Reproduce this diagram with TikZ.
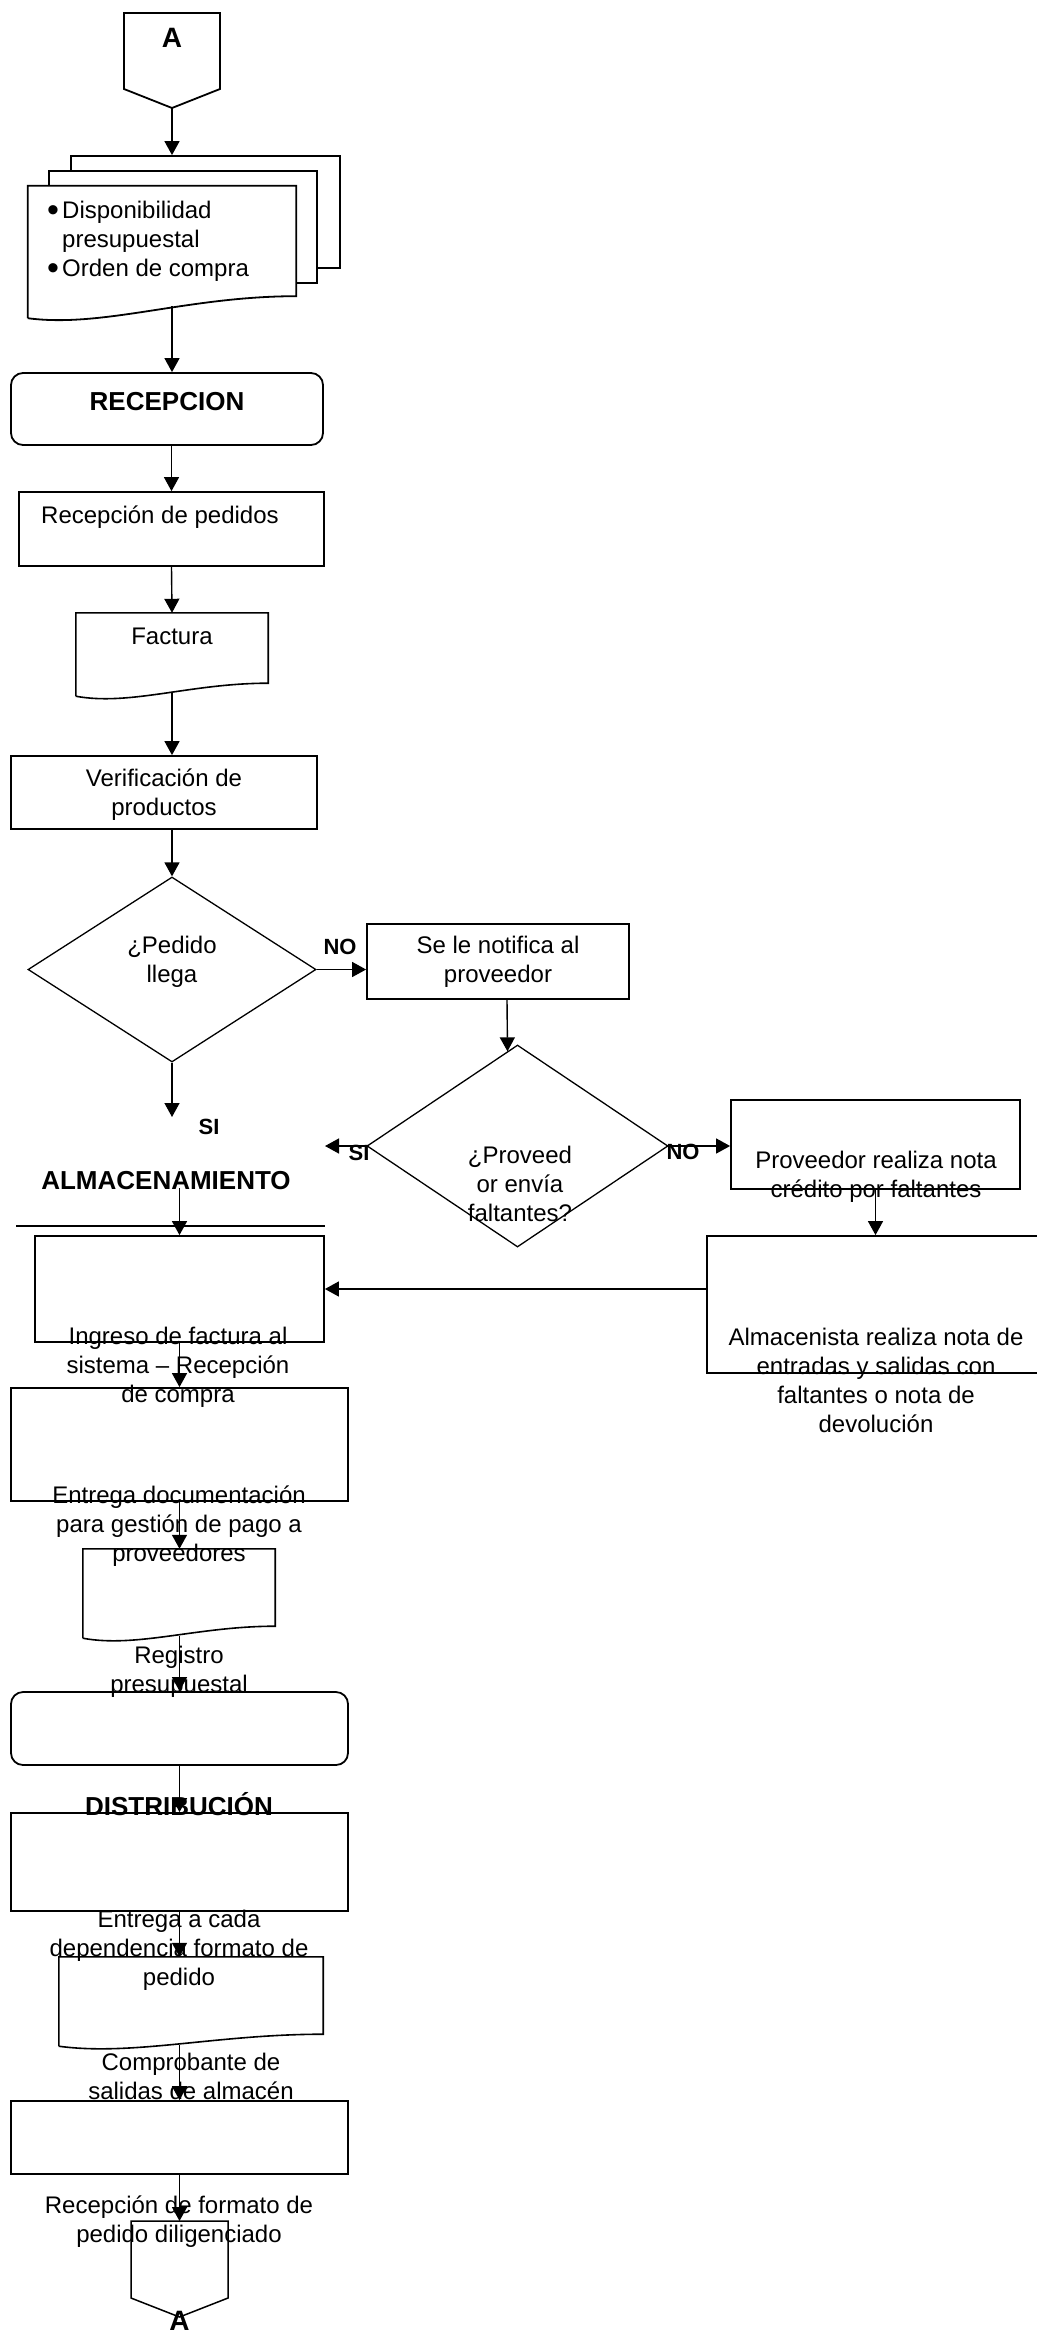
\documentclass[tikz,border=0pt]{standalone}
\usepackage{fontspec}
\setmainfont{Liberation Sans}
\usetikzlibrary{arrows.meta,shapes.geometric}

\begin{document}
\begin{tikzpicture}[x=1pt, y=-1pt,
  box/.style={draw, rectangle, line width=1.8pt, inner sep=0pt},
  rbox/.style={box, rounded corners=12pt},
  docn/.style={rectangle, inner sep=0pt},
  docl/.style={line width=1.6pt},
  dec/.style={draw, diamond, line width=1.3pt, inner sep=0pt},
  arr/.style={-{Triangle[length=14pt, width=15pt]}, line width=1.4pt},
  txt/.style={font=\fontsize{24}{29}\selectfont, align=center, inner sep=0pt},
  hdr/.style={font=\fontsize{26}{30}\selectfont\bfseries, inner sep=0pt},
  lbl/.style={font=\fontsize{22}{26}\selectfont\bfseries, inner sep=0pt}
]
  \useasboundingbox (0,0) rectangle (1036,2333);

  % connector A (top)
  \coordinate (a1) at (172,108);
  \draw[line width=1.8pt] (124,13) -- (220,13) -- (220,89) -- (a1) -- (124,89) -- cycle;
  \node[hdr, font=\fontsize{28}{32}\selectfont\bfseries] (a1t) at (172,38) {A};

  % stacked documents
  \node[box, fill=white, minimum width=269, minimum height=112] (ords3) at (205.5,212) {};
  \node[box, fill=white, minimum width=268, minimum height=112] (ords2) at (183,227) {};
  \node[docn, minimum width=268, minimum height=110] (ords) at (162,241) {};
  \draw[docl, line width=1.8pt, fill=white] ([shift={(0,22)}]ords.south west) -- (ords.north west) -- (ords.north east)
    -- (ords.south east) .. controls +(-109,0) and +(75,10) .. ([shift={(0,22)}]ords.south west);
  \node[txt, align=left, anchor=west] (ordst) at (47,241)
    {\makebox[15pt][l]{\raisebox{-3.5pt}{\fontsize{34}{29}\selectfont\textbullet}}Disponibilidad\\\hspace*{15pt}presupuestal\\\makebox[15pt][l]{\raisebox{-3.5pt}{\fontsize{34}{29}\selectfont\textbullet}}Orden de compra};
  \coordinate (ords-b) at (172,306);

  \node[rbox, minimum width=312, minimum height=72] (rec) at (167,409) {};
  \node[hdr] (rect) at (167,402) {RECEPCION};

  \node[box, minimum width=305, minimum height=74] (recped) at (171.5,529) {};
  \node[txt, anchor=west] (recpedt) at (41,517) {Recepción de pedidos};

  \node[docn, minimum width=192, minimum height=70] (fac) at (172,648) {};
  \draw[docl] ([shift={(0,13)}]fac.south west) -- (fac.north west) -- (fac.north east)
    -- (fac.south east) .. controls +(-78,0) and +(54,10) .. ([shift={(0,13)}]fac.south west);
  \node[txt] (fact) at (172,636) {Factura};
  \coordinate (fac-b) at (172,693);

  \node[box, minimum width=306, minimum height=73] (ver) at (164,792.5) {};
  \node[txt] (vert) at (164,795) {Verificación de\\productos};

  % decisions
  \node[dec, minimum width=288, minimum height=185] (dec1) at (172,969.5) {};
  \node[txt] (dec1t) at (172,962) {¿Pedido\\llega};
  \node[lbl] (no1) at (340,947) {NO};

  \node[box, minimum width=262, minimum height=75] (notif) at (498,961.5) {};
  \node[txt] (notift) at (498,962) {Se le notifica al\\proveedor};

  \node[dec, minimum width=301, minimum height=202] (dec2) at (517.5,1146) {};
  \node[txt] (dec2t) at (520,1184) {¿Proveed\\or envía\\faltantes?};
  \coordinate (si2) at (325,1146);
  \node[lbl] (si2t) at (359,1153) {SI};
  \node[lbl] (no2t) at (683,1152) {NO};

  \node[box, minimum width=289, minimum height=89] (prov) at (875.5,1144.5) {};
  \node[txt] (provt) at (876,1177) {Proveedor realiza nota\\crédito por faltantes};

  \node[box, minimum width=331, minimum height=137] (alm) at (872.5,1304.5) {};
  \node[txt] (almct) at (876,1380) {Almacenista realiza nota de\\entradas y salidas con\\faltantes o nota de\\devolución};

  \coordinate (si1) at (172,1117);
  \node[lbl] (si1t) at (209,1127) {SI};

  % almacenamiento
  \node[hdr] (almt) at (166,1181) {ALMACENAMIENTO};
  \coordinate (almt-b) at (179.5,1188);
  \draw[line width=1.4pt] (16,1226) -- (325,1226);

  \node[box, minimum width=289, minimum height=106] (ing) at (179.5,1289) {};
  \node[txt] (ingt) at (178,1367) {Ingreso de factura al\\sistema – Recepción\\de compra};

  \node[box, minimum width=337, minimum height=113] (ent) at (179.5,1444.5) {};
  \node[txt] (entt) at (179,1526) {Entrega documentación\\para gestión de pago a\\proveedores};

  \node[docn, minimum width=192, minimum height=77] (reg) at (179,1587.5) {};
  \draw[docl] ([shift={(0,12)}]reg.south west) -- (reg.north west) -- (reg.north east)
    -- (reg.south east) .. controls +(-78,0) and +(54,10) .. ([shift={(0,12)}]reg.south west);
  \node[txt] (regt) at (179,1672) {Registro\\presupuestal};
  \coordinate (reg-b) at (179.5,1636);

  \node[rbox, minimum width=337, minimum height=73] (dist) at (179.5,1728.5) {};
  \node[hdr] (distt) at (179,1804) {DISTRIBUCIÓN};

  \node[box, minimum width=337, minimum height=98] (entc) at (179.5,1862) {};
  \node[txt] (entct) at (179,1950) {Entrega a cada\\dependencia formato de\\pedido};

  \node[docn, minimum width=264, minimum height=77] (comp) at (191,1995.5) {};
  \draw[docl] ([shift={(0,12)}]comp.south west) -- (comp.north west) -- (comp.north east)
    -- (comp.south east) .. controls +(-107,0) and +(74,10) .. ([shift={(0,12)}]comp.south west);
  \node[txt] (compt) at (191,2076) {Comprobante de\\salidas de almacén};
  \coordinate (comp-b) at (179.5,2045);

  \node[box, minimum width=337, minimum height=73] (recf) at (179.5,2137.5) {};
  \node[txt] (recft) at (179,2222) {Recepción de formato de\\pedido diligenciado};

  % connector A (bottom)
  \coordinate (a2) at (179.5,2221);
  \draw[line width=1.5pt] (a2) -- (228,2221) -- (228,2298) -- (179.5,2317) -- (131,2298) -- (131,2221) -- cycle;
  \node[hdr, font=\fontsize{28}{32}\selectfont\bfseries] (a2t) at (179.5,2321) {A};

  % connectors
  \draw[arr] (a1) -- (a1 |- ords3.north);
  \draw[arr] (ords-b) -- (ords-b |- rec.north);
  \draw[arr] (recped.north |- rec.south) -- (recped.north);
  \draw[arr] (recped.south) -- (fac.north);
  \draw[arr] (fac-b) -- (fac-b |- ver.north);
  \draw[arr] (dec1.north |- ver.south) -- (dec1.north);
  \draw[arr] (dec1.east) -- (dec1.east -| notif.west);
  \draw[arr] ([shift={(9,0)}]notif.south) -- ([shift={(-10,7)}]dec2.north);
  \draw[arr] (dec2.west) -- (si2);
  \draw[arr] (dec2.east) -- (dec2.east -| prov.west);
  \draw[arr] (prov.south) -- (prov.south |- alm.north);
  \draw[arr] (alm.west |- ing.east) -- (ing.east);
  \draw[arr] (dec1.south) -- (si1);
  \draw[arr] (almt-b) -- (ing.north);
  \draw[arr] (ing.south) -- (ent.north);
  \draw[arr] (ent.south) -- (ent.south |- reg.north);
  \draw[arr] (reg-b) -- (reg-b |- dist.north);
  \draw[arr] (dist.south) -- (entc.north);
  \draw[arr] (entc.south) -- (entc.south |- comp.north);
  \draw[arr] (comp-b) -- (comp-b |- recf.north);
  \draw[arr] (recf.south) -- (a2);
\end{tikzpicture}
\end{document}
